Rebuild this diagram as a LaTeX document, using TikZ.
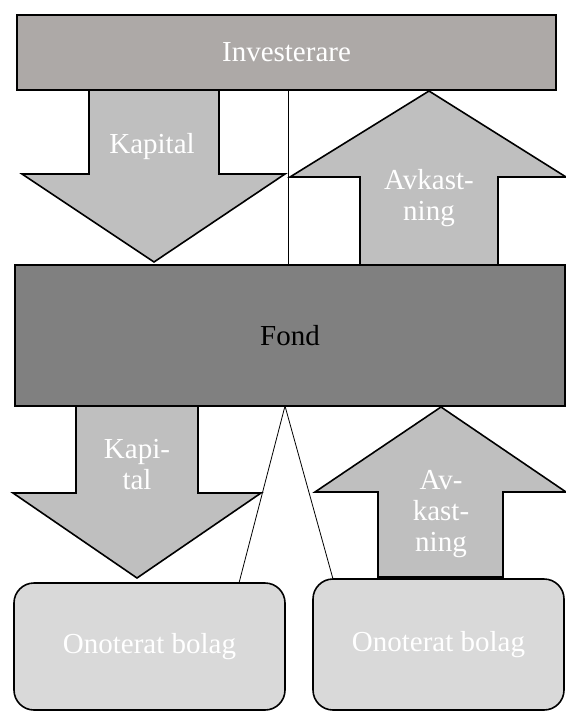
\documentclass[tikz,border=0pt]{standalone}
\usepackage{fontspec}
\setmainfont{Liberation Serif}
\begin{document}
\begin{tikzpicture}[x=1pt,y=-1pt,
  box/.style={draw=black, line width=1.6pt, inner sep=0pt, outer sep=0pt, font=\fontsize{29}{33}\selectfont},
  flow/.style={draw=black, line width=1.6pt, fill=arrowgray, line join=miter},
  lbl/.style={text=white, align=center, inner sep=0pt, font=\fontsize{29}{31}\selectfont},
  thin/.style={draw=black, line width=0.8pt}
]
\definecolor{invgray}{RGB}{173,169,167}
\definecolor{arrowgray}{RGB}{191,191,191}
\definecolor{fondgray}{RGB}{128,128,128}
\definecolor{boxlight}{RGB}{217,217,217}
\useasboundingbox (0,0) rectangle (565,711);

% top arrows
\draw[flow] (89,90) -- (219,90) -- (219,174) -- (285,174) -- (154,262) -- (22,174) -- (89,174) -- cycle;
\draw[flow] (360,265) -- (360,177) -- (290,177) -- (429,91) -- (566,177) -- (498,177) -- (498,265) -- cycle;
% bottom arrows
\draw[flow] (76,406) -- (198,406) -- (198,493) -- (261,493) -- (137,578) -- (13,493) -- (76,493) -- cycle;
\draw[flow] (378,577) -- (378,492) -- (315,492) -- (441,407) -- (566,492) -- (503,492) -- (503,577) -- cycle;

% boxes
\node[box, fill=invgray, text=white, minimum width=539, minimum height=75] (inv) at (286.5,52.5) {Investerare};
\node[box, fill=fondgray, text=black, minimum width=550, minimum height=141] (fond) at (290,335.5) {Fond};
\node[box, fill=boxlight, text=white, rounded corners=20pt, minimum width=271, minimum height=127] (bolagA) at (149.5,646.5) {Onoterat bolag};
\node[box, fill=boxlight, text=white, rounded corners=20pt, minimum width=251, minimum height=131] (bolagB) at (438.5,644.5) {Onoterat bolag};

% arrow labels
\node[lbl] (kap1) at (152,147) {Kapital};
\node[lbl] (avk1) at (429,198) {Avkast-\\ning};
\node[lbl] (kap2) at (137,465) {Kapi-\\tal};
\node[lbl] (avk2) at (441,514) {Av-\\kast-\\ning};

% thin connectors
\draw[thin] (inv.south -| 288,0) -- (fond.north -| 288,0);
\coordinate (apex) at (fond.south -| 285,0);
\draw[thin] (apex) -- (bolagA.north -| 239,0);
\draw[thin] (apex) -- (bolagB.north -| 333,0);
\end{tikzpicture}
\end{document}
